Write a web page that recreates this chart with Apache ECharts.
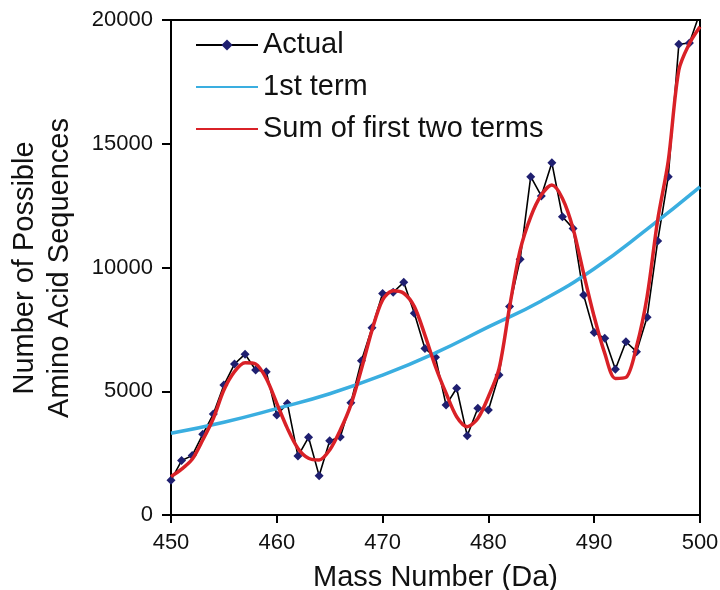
<!DOCTYPE html>
<html>
<head>
<meta charset="utf-8">
<script src="https://cdn.jsdelivr.net/npm/echarts@6/dist/echarts.min.js"></script>
<style>
  html, body { margin: 0; padding: 0; background: #fff; }
  #main { width: 720px; height: 590px; }
</style>
</head>
<body>
<div id="main"></div>
<script>
// mass numbers for the measured curve
const massNumbers = [450, 451, 452, 453, 454, 455, 456, 457, 458, 459,
  460, 461, 462, 463, 464, 465, 466, 467, 468, 469,
  470, 471, 472, 473, 474, 475, 476, 477, 478, 479,
  480, 481, 482, 483, 484, 485, 486, 487, 488, 489,
  490, 491, 492, 493, 494, 495, 496, 497, 498, 499, 500]

const actualValues = [1400, 2200, 2400, 3260, 4080, 5250, 6100, 6500, 5860, 5790,
  4040, 4510, 2380, 3140, 1590, 3000, 3150, 4540, 6230, 7570,
  8950, 9000, 9400, 8150, 6730, 6370, 4440, 5120, 3200, 4310,
  4240, 5660, 8420, 10330, 13670, 12890, 14230, 12050, 11580, 8890,
  7370, 7140, 5890, 7000, 6600, 7990, 11070, 13670, 19020, 19070, 20300]

const sumValues = [1550, 1850, 2250, 3030, 3900, 5050, 5790, 6150, 6100, 5520,
  4510, 3500, 2690, 2290, 2220, 2630, 3430, 4450, 5900, 7470,
  8690, 9060, 8960, 8420, 7270, 5990, 4920, 3970, 3570, 3900,
  4780, 5900, 8400, 10700, 12050, 12930, 13330, 12790, 11580, 9760,
  8010, 6530, 5520, 5560, 6800, 8820, 11920, 14300, 17980, 19050, 19730]

// 1st term, read every 5 Da
const firstTermMass = [450, 455, 460, 465, 470, 475, 480, 485, 490, 495, 500]
const firstTermValues = [3300, 3750, 4300, 4900, 5650, 6550, 7600, 8650, 9950, 11550, 13260]

const xTicks = [450, 460, 470, 480, 490, 500]
const yTicks = [0, 5000, 10000, 15000, 20000]

const font = 'Liberation Sans, Arial, sans-serif'

let chart = echarts.init(document.getElementById('main'))

let option = {
  animation: false,
  grid: {
    left: 171,
    right: 20,
    top: 20,
    bottom: 75,
    outerBoundsMode: 'none',
    containLabel: false,
    show: true,
    borderColor: '#000',
    borderWidth: 2,
    backgroundColor: 'transparent'
  },
  // y axis title, two centred lines
  graphic: [{
    type: 'text',
    x: 42,
    y: 268,
    rotation: Math.PI / 2,
    style: {
      text: 'Number of Possible\nAmino Acid Sequences',
      font: '29px ' + font,
      fill: '#111',
      align: 'center',
      verticalAlign: 'middle',
      lineHeight: 35
    }
  }],
  legend: {
    orient: 'vertical',
    left: 190,
    top: 25,
    itemWidth: 62,
    itemHeight: 14,
    itemGap: 12,
    textStyle: {
      fontFamily: font,
      fontSize: 29,
      lineHeight: 30,
      color: '#111'
    },
    data: [
      { name: 'Actual' },
      { name: '1st term', itemStyle: { opacity: 0 } },
      { name: 'Sum of first two terms', itemStyle: { opacity: 0 } }
    ]
  },
  xAxis: {
    type: 'value',
    min: xTicks[0],
    max: xTicks[xTicks.length - 1],
    interval: 10,
    name: 'Mass Number (Da)',
    nameLocation: 'middle',
    nameGap: 48,
    nameTextStyle: {
      fontFamily: font,
      fontSize: 29,
      color: '#111'
    },
    axisLine: { lineStyle: { color: '#000', width: 2 } },
    axisTick: { inside: false, length: 8, lineStyle: { color: '#000', width: 2 } },
    axisLabel: {
      margin: 17,
      fontFamily: font,
      fontSize: 22,
      color: '#111'
    },
    splitLine: { show: false }
  },
  yAxis: {
    type: 'value',
    min: yTicks[0],
    max: yTicks[yTicks.length - 1],
    interval: 5000,
    axisLine: { show: true, lineStyle: { color: '#000', width: 2 } },
    axisTick: { show: true, inside: false, length: 9, lineStyle: { color: '#000', width: 2 } },
    axisLabel: {
      margin: 18,
      fontFamily: font,
      fontSize: 22,
      color: '#111',
      formatter: function (v) { return String(v) }
    },
    splitLine: { show: false }
  },
  series: [
    {
      name: 'Actual',
      type: 'line',
      data: massNumbers.map((m, i) => [m, actualValues[i]]),
      symbol: 'diamond',
      symbolSize: 9,
      itemStyle: { color: '#1f1f70' },
      lineStyle: { color: '#000', width: 1.6 },
      z: 2
    },
    {
      name: '1st term',
      type: 'line',
      data: firstTermMass.map((m, i) => [m, firstTermValues[i]]),
      smooth: true,
      showSymbol: false,
      itemStyle: { color: '#3aaee0' },
      lineStyle: { color: '#3aaee0', width: 3.5 },
      z: 3
    },
    {
      name: 'Sum of first two terms',
      type: 'line',
      data: massNumbers.map((m, i) => [m, sumValues[i]]),
      smooth: 0.3,
      showSymbol: false,
      itemStyle: { color: '#d92127' },
      lineStyle: { color: '#d92127', width: 3.5 },
      z: 4
    }
  ]
}

chart.setOption(option)
</script>
</body>
</html>
